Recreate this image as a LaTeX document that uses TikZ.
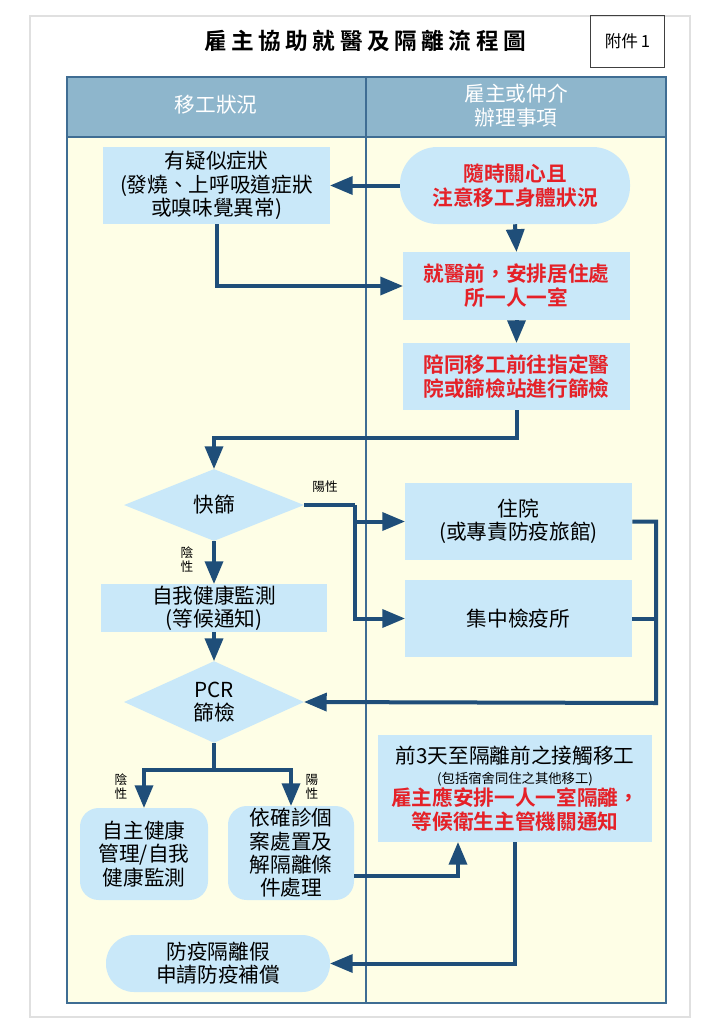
\documentclass[tikz,border=0pt]{standalone}
\usepackage{fontspec}
\setmainfont{Noto Sans CJK TC}[BoldFont={Noto Sans CJK TC Bold}]
\newfontfamily\titlefont[LetterSpace=20]{Noto Sans CJK TC Bold}
\usepackage{pgf,tikz}
\usetikzlibrary{arrows}
\usetikzlibrary{shapes.geometric}
\usetikzlibrary{calc}

\definecolor{hdrblue}{HTML}{8EB6CC}
\definecolor{tblline}{HTML}{3F6D93}
\definecolor{bodyyel}{HTML}{FEFEE6}
\definecolor{boxblue}{HTML}{C9E8F9}
\definecolor{arrblue}{HTML}{1F4E79}
\definecolor{txtred}{HTML}{E52128}

\begin{document}
\begin{tikzpicture}[line cap=butt,line join=miter,>=triangle 45,x=0.75pt,y=-0.75pt]
\useasboundingbox (0,0) rectangle (724,1024);
\tikzstyle{flowbox}=[fill=boxblue, draw=none, inner sep=0pt, align=center, font=\fontsize{15.5}{17.5}\selectfont];
\tikzstyle{redtext}=[text=txtred, font=\bfseries\fontsize{15.5}{18}\selectfont];
\tikzstyle{testdiamond}=[flowbox, diamond, minimum width=135pt, minimum height=54pt];
\tikzstyle{flowarrow}=[draw=arrblue, line width=3pt];
\tikzstyle{yesno}=[inner sep=0pt, align=center, font=\fontsize{9.5}{10.5}\selectfont];

% frame and table
\draw [line width=1.5pt, color=black!12] (30,16) rectangle (690,1017);
\fill [color=bodyyel] (67,137) rectangle (666,1003);
\fill [color=hdrblue] (67,77) rectangle (666,137);
\draw [line width=0.9pt, color=tblline] (67,77) rectangle (666,1003);
\draw [line width=0.9pt, color=tblline] (67,137) -- (666,137);
\draw [line width=0.9pt, color=tblline] (366,77) -- (366,1003);

\node (title) at (365,41) {\titlefont\fontsize{17}{20}\selectfont 雇主協助就醫及隔離流程圖};
\node [draw=black!75, line width=0.6pt, minimum width=56pt, minimum height=39pt, font=\fontsize{12.5}{14}\selectfont] (annex) at (627.5,41) {附件\,1};
\node [text=white, font=\fontsize{15.5}{18}\selectfont] (hdrleft) at (216,105) {移工狀況};
\node [text=white, align=center, font=\fontsize{15.5}{18}\selectfont] (hdrright) at (516,106) {雇主或仲介\\辦理事項};

% boxes
\node [flowbox, minimum width=170.25pt, minimum height=57.75pt] (A) at (216.5,185.5) {有疑似症狀\\(發燒、上呼吸道症狀\\或嗅味覺異常)};
\node [flowbox, redtext, rounded corners=28pt, minimum width=172.5pt, minimum height=57.75pt] (B) at (515,185.5) {隨時關心且\\注意移工身體狀況};
\node [flowbox, redtext, minimum width=170.25pt, minimum height=51pt] (C) at (516.5,286) {就醫前，安排居住處\\所一人一室};
\node [flowbox, redtext, minimum width=170.25pt, minimum height=50.25pt] (D) at (516.5,376.5) {陪同移工前往指定醫\\院或篩檢站進行篩檢};
\node [testdiamond] (E) at (214,505) {快篩};
\node [flowbox, minimum width=169.5pt, minimum height=36pt] (F) at (214,608) {自我健康監測\\(等候通知)};
\node [testdiamond, minimum height=57pt] (G) at (214,702) {PCR\\篩檢};
\node [flowbox, minimum width=170.25pt, minimum height=57.75pt] (H) at (518.5,521.5) {住院\\(或專責防疫旅館)};
\node [flowbox, minimum width=170.25pt, minimum height=57.75pt] (I) at (518.5,618.5) {集中檢疫所};
\node [flowbox, rounded corners=14pt, minimum width=96pt, minimum height=69pt] (J) at (144,854) {自主健康\\管理/自我\\健康監測};
\node [flowbox, rounded corners=14pt, minimum width=94.5pt, minimum height=70.5pt] (K) at (291,853) {依確診個\\案處置及\\解隔離條\\件處理};
\node [flowbox, minimum width=205.5pt, minimum height=80.25pt] (L) at (515,788.5) {前3天至隔離前之接觸移工\\[-2pt]{\fontsize{10}{11}\selectfont (包括宿舍同住之其他移工)}\\[-1pt]\textcolor{txtred}{\bfseries 雇主應安排一人一室隔離，}\\\textcolor{txtred}{\bfseries 等候衛生主管機關通知}};
\node [flowbox, rounded corners=21pt, minimum width=168pt, minimum height=42.75pt] (M) at (218,963.5) {防疫隔離假\\申請防疫補償};

% yes / no labels
\node [yesno] (posE) at (325,487) {陽性};
\node [yesno] (negE) at (187,560) {陰\\性};
\node [yesno] (negG) at (121,787) {陰\\性};
\node [yesno] (posG) at (312,787) {陽\\性};

% connectors
\draw [flowarrow,->] (B.west) -- (A.east);
\draw [flowarrow,->] (A.south) |- (C.west);
\draw [flowarrow,->] (B.south) -- (C.north);
\draw [flowarrow,->] (C.south) -- (D.north);
\draw [flowarrow,->] (D.south) -- ++(0,28) -| (E.north);
\coordinate (epos) at (355,505);
\draw [flowarrow] (E.east) -- (epos);
\draw [flowarrow,->] (epos) |- (H.west);
\draw [flowarrow,->] (epos) |- (I.west);
\draw [flowarrow,->] (E.south) -- (F.north);
\draw [flowarrow,->] (F.south) -- (G.north);
\coordinate (hub) at (656,703);
\draw [flowarrow,->] (H.east) -| (hub) -- (G.east);
\draw [flowarrow] (I.east) -- (I.east -| hub);
\coordinate (gsplit) at (214,770);
\draw [flowarrow] (G.south) -- (gsplit);
\draw [flowarrow,->] (gsplit) -| (J.north);
\draw [flowarrow,->] (gsplit) -| (K.north);
\draw [flowarrow,->] ($(K.east)+(0,23)$) -| ($(L.south)+(-57,0)$);
\draw [flowarrow,->] (L.south) |- (M.east);
\end{tikzpicture}
\end{document}
